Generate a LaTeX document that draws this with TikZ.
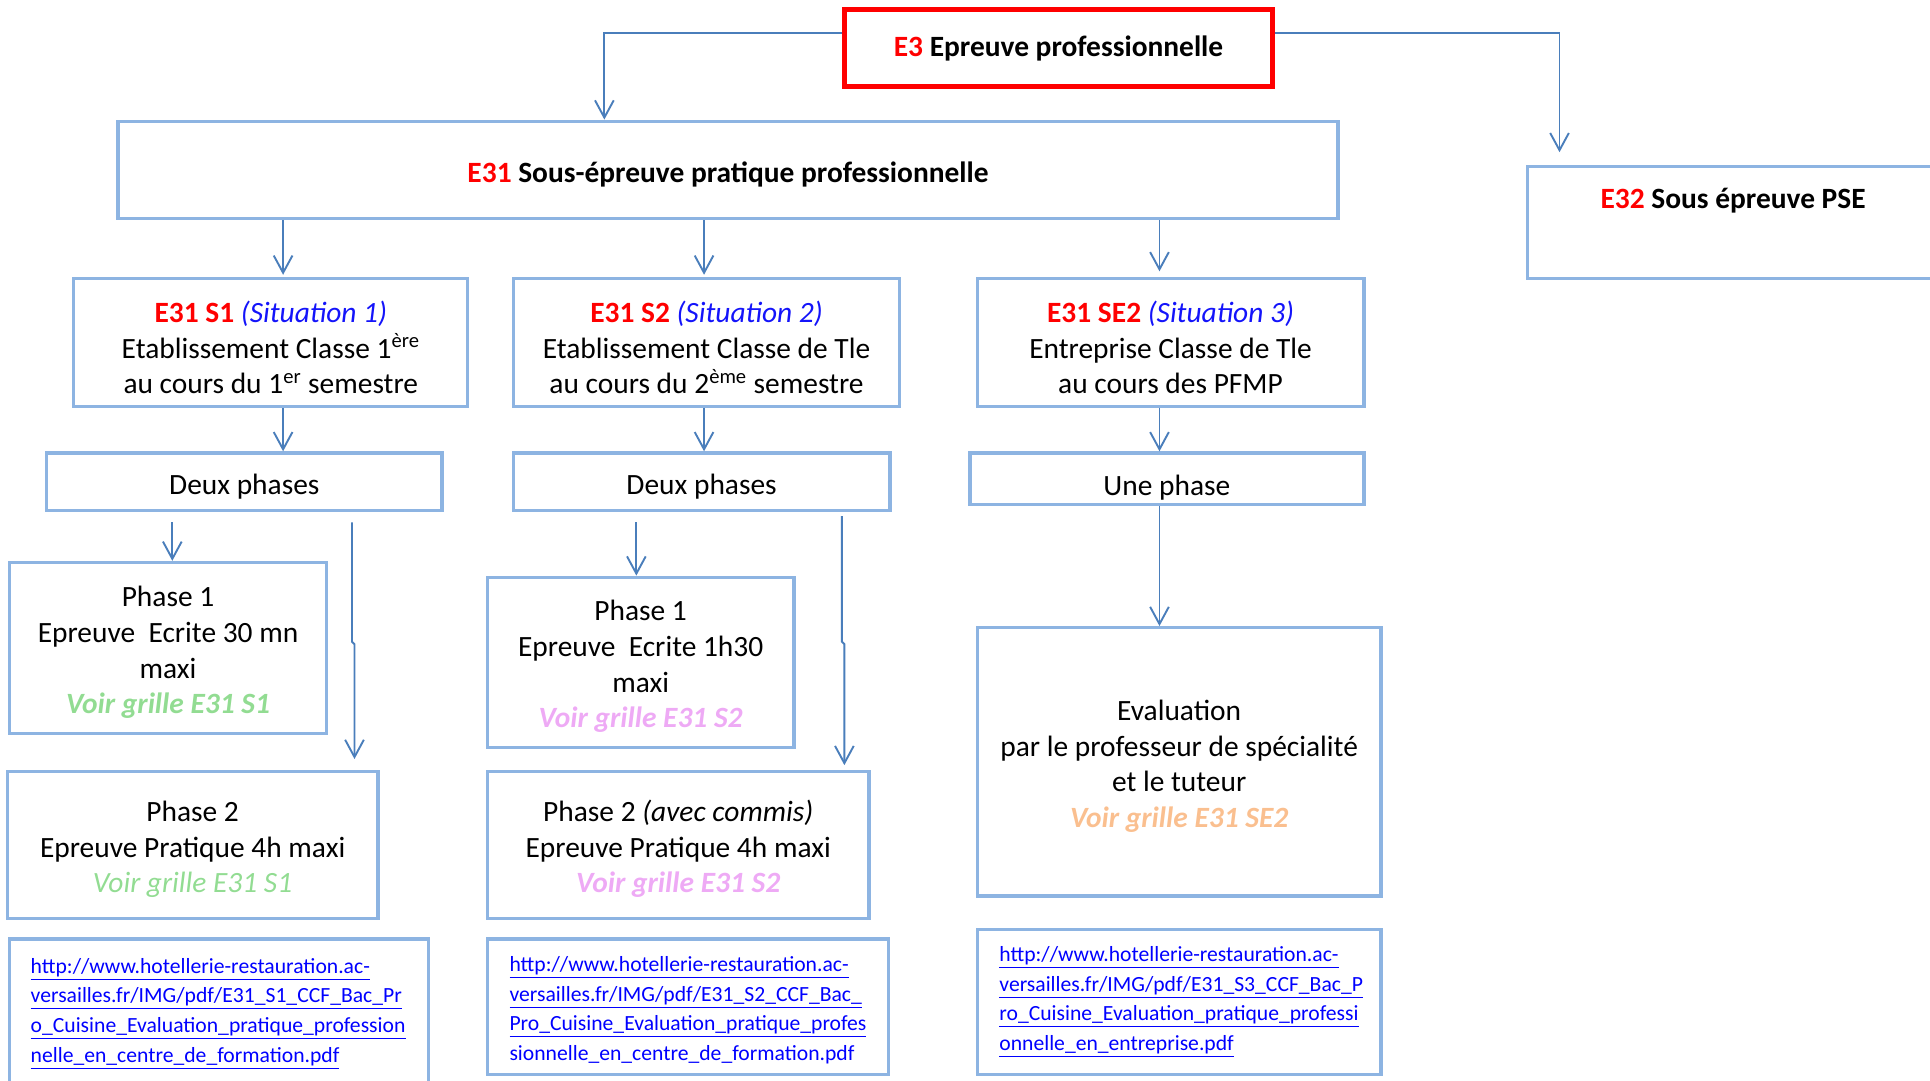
\documentclass[tikz,border=0pt]{standalone}
\usepackage{fontspec}
\setmainfont{Carlito}
\definecolor{BoxLine}{RGB}{141,180,226}
\definecolor{Link}{RGB}{74,126,187}
\definecolor{Code}{RGB}{255,0,0}
\definecolor{Sit}{RGB}{20,20,250}
\definecolor{GrilleA}{RGB}{146,220,146}
\definecolor{GrilleB}{RGB}{238,170,245}
\definecolor{GrilleC}{RGB}{250,191,143}
\definecolor{Url}{RGB}{0,0,255}
\newcommand{\lift}[1][1]{\rule{0pt}{#1em}}
\usetikzlibrary{arrows.meta,positioning}

\begin{document}
\begin{tikzpicture}[x=0.025cm,y=-0.025cm,
  box/.style={draw=BoxLine,line width=1.9pt,align=center,inner sep=0pt,
    font=\fontsize{17}{20.6}\selectfont},
  urlbox/.style={box,align=left,font=\fontsize{12.5}{17.1}\selectfont\color{Url}},
  arr/.style={draw=Link,line width=1.1pt,-{Straight Barb[length=3.5mm,width=3.8mm]}}]
  \useasboundingbox (0,0) rectangle (1568,878);
  \node[box,draw=Code,line width=2.8pt,minimum width=8.7cm,minimum height=1.55cm,
    font=\fontsize{17}{20.6}\selectfont\bfseries] (e3) at (860,39)
    {\textcolor{Code}{E3} Epreuve professionnelle};
  \node[box,minimum width=24.775cm,minimum height=1.975cm,
    font=\fontsize{17}{20.6}\selectfont\bfseries] (e31) at (591.5,138)
    {\lift\textcolor{Code}{E31} Sous-épreuve pratique professionnelle};
  \node[box,minimum width=9.475cm,minimum height=2.275cm,
    label={[font=\fontsize{17}{20.6}\selectfont\bfseries,xshift=-0.5625cm,yshift=0.44cm]center:{\textcolor{Code}{E32} Sous épreuve PSE}}]
    (e32) at (1430.5,180.5) {};

  \node[box,minimum width=8cm,minimum height=2.6cm] (s1) at (220,278)
    {\lift[1.1]{\bfseries\color{Code}E31 S1} {\itshape\color{Sit}(Situation 1)}\\
     Etablissement Classe 1\textsuperscript{ère}\\
     au cours du 1\textsuperscript{er} semestre};
  \node[box,minimum width=7.85cm,minimum height=2.6cm] (s2) at (574,278)
    {\lift[1.1]{\bfseries\color{Code}E31 S2} {\itshape\color{Sit}(Situation 2)}\\
     Etablissement Classe de Tle\\
     au cours du 2\textsuperscript{ème} semestre};
  \node[box,minimum width=7.85cm,minimum height=2.6cm] (se2) at (951,278)
    {\lift[1.1]{\bfseries\color{Code}E31 SE2} {\itshape\color{Sit}(Situation 3)}\\
     Entreprise Classe de Tle\\
     au cours des PFMP};

  \node[box,minimum width=8.025cm,minimum height=1.175cm] (dp1) at (198.5,391.5) {\lift Deux phases};
  \node[box,minimum width=7.65cm,minimum height=1.175cm] (dp2) at (570,391.5) {\lift Deux phases};
  \node[box,minimum width=8cm,minimum height=1.05cm] (up3) at (948,389) {\lift[1.3]Une phase};

  \node[box,minimum width=6.425cm,minimum height=3.475cm] (ph1a) at (136.5,526.5)
    {\lift Phase 1\\ Epreuve~~Ecrite 30 mn\\ maxi\\
     \textcolor{GrilleA}{\bfseries\itshape Voir grille E31 S1}};
  \node[box,minimum width=7.525cm,minimum height=2.975cm] (ph2a) at (156.5,686.5)
    {\lift Phase 2\\ Epreuve Pratique 4h maxi\\
     \textcolor{GrilleA}{\itshape Voir grille E31 S1}};
  \node[box,minimum width=6.225cm,minimum height=3.45cm] (ph1b) at (520.5,538)
    {\lift Phase 1\\ Epreuve~~Ecrite 1h30\\ maxi\\
     \textcolor{GrilleB}{\bfseries\itshape Voir grille E31 S2}};
  \node[box,minimum width=7.75cm,minimum height=2.975cm] (ph2b) at (551,686.5)
    {\lift Phase 2 \textit{(avec commis)}\\ Epreuve Pratique 4h maxi\\
     \textcolor{GrilleB}{\bfseries\itshape Voir grille E31 S2}};
  \node[box,minimum width=8.2cm,minimum height=5.45cm] (ev) at (958,619)
    {\lift Evaluation\\ par le professeur de spécialité\\ et le tuteur\\
     \textcolor{GrilleC}{\bfseries\itshape Voir grille E31 SE2}};

  \node[urlbox,minimum width=8.5cm,minimum height=3.025cm,text width=7.65cm] (url1) at (178,823.5)
    {\underline{http://www.hotellerie-restauration.ac-}\\
     \underline{versailles.fr/IMG/pdf/E31\_S1\_CCF\_Bac\_Pr}\\
     \underline{o\_Cuisine\_Evaluation\_pratique\_profession}\\
     \underline{nelle\_en\_centre\_de\_formation.pdf}};
  \node[urlbox,minimum width=8.15cm,minimum height=2.75cm,text width=7.25cm] (url2) at (559,818)
    {\lift\underline{http://www.hotellerie-restauration.ac-}\\
     \underline{versailles.fr/IMG/pdf/E31\_S2\_CCF\_Bac\_}\\
     \underline{Pro\_Cuisine\_Evaluation\_pratique\_profes}\\
     sionnelle\_en\_centre\_de\_formation.pdf};
  \node[urlbox,minimum width=8.2cm,minimum height=2.95cm,text width=7.3cm] (url3) at (958,814)
    {\underline{http://www.hotellerie-restauration.ac-}\\
     \underline{versailles.fr/IMG/pdf/E31\_S3\_CCF\_Bac\_P}\\
     \underline{ro\_Cuisine\_Evaluation\_pratique\_professi}\\
     \underline{onnelle\_en\_entreprise.pdf}};

  \coordinate (k1) at (491,0);
  \coordinate (k2) at (1267,0);
  \coordinate (c1) at (230,0);
  \coordinate (c2) at (572,0);
  \coordinate (c3) at (942,0);
  \coordinate (a1) at (140,0);
  \coordinate (b1) at (286,0);
  \coordinate (b1e) at (288,0);
  \coordinate (a2) at (517,0);
  \coordinate (b2) at (684,0);
  \coordinate (b2e) at (686,0);

  \draw[arr] ([yshift=0.3cm]e3.west) -| (k1 |- e31.north);
  \draw[arr,shorten >=0.25cm] ([yshift=0.3cm]e3.east) -| (k2 |- e32.north);
  \draw[arr,shorten >=1pt] (e31.south -| c1) -- (s1.north -| c1);
  \draw[arr,shorten >=1pt] (e31.south -| c2) -- (s2.north -| c2);
  \draw[arr,shorten >=3pt] (e31.south -| c3) -- (se2.north -| c3);
  \draw[arr] (s1.south -| c1) -- (dp1.north -| c1);
  \draw[arr] (s2.south -| c2) -- (dp2.north -| c2);
  \draw[arr] (se2.south -| c3) -- (up3.north -| c3);
  \draw[arr,shorten <=0.2cm] (dp1.south -| a1) -- (ph1a.north -| a1);
  \draw[arr,shorten <=0.2cm,shorten >=0.225cm] (dp1.south -| b1) -- ++(0,105) -- ++(2,2) -- (ph2a.north -| b1e);
  \draw[arr,shorten <=0.2cm] (dp2.south -| a2) -- (ph1b.north -| a2);
  \draw[arr,shorten <=0.075cm,shorten >=0.1cm] (dp2.south -| b2) -- ++(0,105) -- ++(2,2) -- (ph2b.north -| b2e);
  \draw[arr] (up3.south -| c3) -- (ev.north -| c3);
\end{tikzpicture}
\end{document}
